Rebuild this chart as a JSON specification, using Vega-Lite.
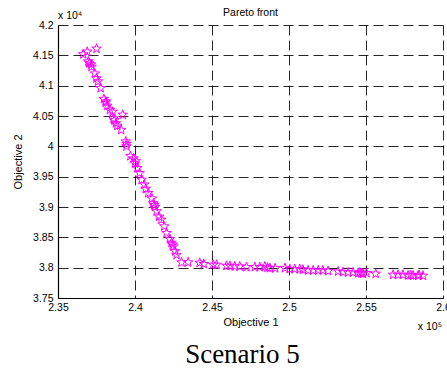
{
  "$schema": "https://vega.github.io/schema/vega-lite/v6.json",
  "width": 385,
  "height": 273,
  "autosize": {"type": "none"},
  "padding": {"left": 58, "top": 25, "right": 4, "bottom": 70},
  "background": "white",
  "config": {"view": {"stroke": null}, "font": "Liberation Sans"},
  "title": {"text": "Scenario 5", "orient": "bottom", "font": "Liberation Serif", "fontSize": 27, "fontWeight": "normal", "color": "black", "anchor": "middle", "offset": 9, "dx": -8},
  "layer": [
    {
      "data": {"values": [
        {"obj1": 236640, "obj2": 41517}, {"obj1": 236900, "obj2": 41560}, {"obj1": 237500, "obj2": 41610},
        {"obj1": 236970, "obj2": 41400}, {"obj1": 237030, "obj2": 41370}, {"obj1": 237150, "obj2": 41350},
        {"obj1": 237180, "obj2": 41310}, {"obj1": 237400, "obj2": 41200}, {"obj1": 237500, "obj2": 41120},
        {"obj1": 237600, "obj2": 41070}, {"obj1": 237770, "obj2": 40960}, {"obj1": 237980, "obj2": 40780},
        {"obj1": 238100, "obj2": 40740}, {"obj1": 238100, "obj2": 40720}, {"obj1": 238200, "obj2": 40670},
        {"obj1": 238370, "obj2": 40600}, {"obj1": 238550, "obj2": 40570}, {"obj1": 238600, "obj2": 40460},
        {"obj1": 238650, "obj2": 40430}, {"obj1": 238760, "obj2": 40380}, {"obj1": 238850, "obj2": 40340},
        {"obj1": 239100, "obj2": 40270}, {"obj1": 239200, "obj2": 40520}, {"obj1": 239400, "obj2": 40080},
        {"obj1": 239450, "obj2": 40040}, {"obj1": 239450, "obj2": 40000}, {"obj1": 239700, "obj2": 39840},
        {"obj1": 239900, "obj2": 39800}, {"obj1": 240050, "obj2": 39760}, {"obj1": 240000, "obj2": 39720},
        {"obj1": 240150, "obj2": 39640}, {"obj1": 240300, "obj2": 39560}, {"obj1": 240430, "obj2": 39450},
        {"obj1": 240600, "obj2": 39370}, {"obj1": 240700, "obj2": 39300}, {"obj1": 240860, "obj2": 39230},
        {"obj1": 241100, "obj2": 39140}, {"obj1": 241200, "obj2": 39060}, {"obj1": 241250, "obj2": 39030},
        {"obj1": 241300, "obj2": 39000}, {"obj1": 241400, "obj2": 38930}, {"obj1": 241570, "obj2": 38840},
        {"obj1": 241700, "obj2": 38790}, {"obj1": 241900, "obj2": 38680}, {"obj1": 242050, "obj2": 38570},
        {"obj1": 242270, "obj2": 38470}, {"obj1": 242370, "obj2": 38410}, {"obj1": 242450, "obj2": 38380},
        {"obj1": 242500, "obj2": 38350}, {"obj1": 242600, "obj2": 38270}, {"obj1": 242700, "obj2": 38210},
        {"obj1": 243020, "obj2": 38087}, {"obj1": 243450, "obj2": 38087}, {"obj1": 244200, "obj2": 38080},
        {"obj1": 244470, "obj2": 38060}, {"obj1": 245080, "obj2": 38048}, {"obj1": 245300, "obj2": 38048},
        {"obj1": 245940, "obj2": 38030}, {"obj1": 246160, "obj2": 38030}, {"obj1": 246480, "obj2": 38020},
        {"obj1": 246800, "obj2": 38020}, {"obj1": 247240, "obj2": 38010}, {"obj1": 247780, "obj2": 38010},
        {"obj1": 248100, "obj2": 38010}, {"obj1": 248430, "obj2": 38020}, {"obj1": 248600, "obj2": 38000},
        {"obj1": 248760, "obj2": 37993}, {"obj1": 249100, "obj2": 37990}, {"obj1": 249740, "obj2": 37993},
        {"obj1": 250050, "obj2": 37977}, {"obj1": 250370, "obj2": 37977}, {"obj1": 250700, "obj2": 37977},
        {"obj1": 250900, "obj2": 37966}, {"obj1": 251240, "obj2": 37955}, {"obj1": 251570, "obj2": 37955},
        {"obj1": 251900, "obj2": 37955}, {"obj1": 252200, "obj2": 37955}, {"obj1": 252540, "obj2": 37944},
        {"obj1": 253190, "obj2": 37938}, {"obj1": 253510, "obj2": 37927}, {"obj1": 253840, "obj2": 37922},
        {"obj1": 254160, "obj2": 37922}, {"obj1": 254490, "obj2": 37910}, {"obj1": 254600, "obj2": 37920},
        {"obj1": 254700, "obj2": 37910}, {"obj1": 254800, "obj2": 37900}, {"obj1": 255030, "obj2": 37910},
        {"obj1": 255630, "obj2": 37900}, {"obj1": 256760, "obj2": 37883}, {"obj1": 257080, "obj2": 37883},
        {"obj1": 257400, "obj2": 37883}, {"obj1": 257730, "obj2": 37872}, {"obj1": 257900, "obj2": 37875},
        {"obj1": 258060, "obj2": 37872}, {"obj1": 258380, "obj2": 37867}, {"obj1": 258450, "obj2": 37880},
        {"obj1": 258700, "obj2": 37867}
      ]},
      "mark": {"type": "point", "shape": "M0,-1L0.235,-0.324L0.951,-0.309L0.38,0.124L0.588,0.809L0,0.4L-0.588,0.809L-0.38,0.124L-0.951,-0.309L-0.235,-0.324Z", "filled": false, "stroke": "#FF00FF", "strokeWidth": 1, "size": 100, "opacity": 1},
      "encoding": {
        "x": {"field": "obj1", "type": "quantitative", "title": "Objective 1",
          "scale": {"domain": [235000, 260000], "nice": false, "zero": false},
          "axis": {"values": [235000, 240000, 245000, 250000, 255000, 260000], "tickCount": 20, "labelExpr": "format(datum.value/100000, '.3~g')",
            "grid": true, "gridColor": "black", "gridDash": [10, 5], "gridWidth": 1, "gridOpacity": 0.85,
            "domainColor": "black", "domainWidth": 1.2, "ticks": false,
            "labelFont": "Liberation Sans", "labelFontSize": 10.5, "labelColor": "black", "labelPadding": 4, "labelOverlap": false, "labelFlush": false,
            "titleFont": "Liberation Sans", "titleFontSize": 11, "titleFontWeight": "normal", "titleColor": "black", "titlePadding": 4}},
        "y": {"field": "obj2", "type": "quantitative", "title": "Objective 2",
          "scale": {"domain": [37500, 42000], "nice": false, "zero": false},
          "axis": {"values": [37500, 38000, 38500, 39000, 39500, 40000, 40500, 41000, 41500, 42000], "tickCount": 20, "labelExpr": "format(datum.value/10000, '.3~g')",
            "grid": true, "gridColor": "black", "gridDash": [10, 5], "gridWidth": 1, "gridOpacity": 0.85,
            "domainColor": "black", "domainWidth": 1.2, "ticks": false,
            "labelFont": "Liberation Sans", "labelFontSize": 10.5, "labelColor": "black", "labelPadding": 5, "labelOverlap": false, "labelFlush": false,
            "titleFont": "Liberation Sans", "titleFontSize": 11, "titleFontWeight": "normal", "titleColor": "black", "titlePadding": 9}}
      }
    },
    {
      "data": {"values": [{}]},
      "mark": {"type": "text", "font": "Liberation Sans", "fontSize": 10.5, "color": "black", "align": "center", "baseline": "middle", "dy": -12},
      "encoding": {
        "x": {"datum": 247500, "type": "quantitative", "title": "Objective 1"},
        "y": {"datum": 42000, "type": "quantitative", "title": "Objective 2"},
        "text": {"value": "Pareto front"}
      }
    },
    {
      "data": {"values": [{}]},
      "mark": {"type": "text", "font": "Liberation Sans", "fontSize": 10.5, "color": "black", "align": "left", "baseline": "alphabetic", "dy": -6},
      "encoding": {
        "x": {"datum": 235000, "type": "quantitative", "title": "Objective 1"},
        "y": {"datum": 42000, "type": "quantitative", "title": "Objective 2"},
        "text": {"value": "x 10⁴"}
      }
    },
    {
      "data": {"values": [{}]},
      "mark": {"type": "text", "font": "Liberation Sans", "fontSize": 10.5, "color": "black", "align": "right", "baseline": "alphabetic", "dy": 32, "dx": -1},
      "encoding": {
        "x": {"datum": 260000, "type": "quantitative", "title": "Objective 1"},
        "y": {"datum": 37500, "type": "quantitative", "title": "Objective 2"},
        "text": {"value": "x 10⁵"}
      }
    }
  ]
}
